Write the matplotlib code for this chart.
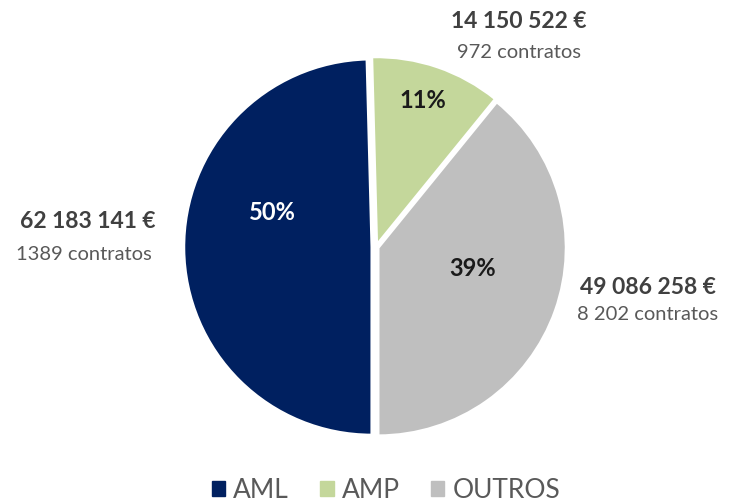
import matplotlib.pyplot as plt

# data
regions = ['AML', 'AMP', 'OUTROS']
amounts = [62183141, 14150522, 49086258]
amount_labels = ['62 183 141 €', '14 150 522 €', '49 086 258 €']
contract_labels = ['1389 contratos', '972 contratos', '8 202 contratos']
colors = ['#002060', '#C4D79B', '#BFBFBF']
pct_colors = ['white', '#1a1a1a', '#1a1a1a']

plt.rcParams['font.family'] = ['Lato', 'DejaVu Sans']

fig = plt.figure(figsize=(7.29, 5.04), dpi=100)
W, H = 729, 504
cx, cy, r = 376, 247, 188
ax = fig.add_axes([(cx - r) / W, (H - cy - r) / H, 2 * r / W, 2 * r / H])

# pie drawn clockwise from 12 o'clock: AMP, OUTROS, AML
order = [1, 2, 0]
explode = {0: 0.022, 1: 0.012, 2: 0.012}
wedges, _ = ax.pie([amounts[i] for i in order], colors=[colors[i] for i in order],
                   explode=[explode[i] for i in order],
                   startangle=91.5, counterclock=False, radius=1,
                   wedgeprops=dict(edgecolor='white', linewidth=2))
ax.set_xlim(-1, 1)
ax.set_ylim(-1, 1)
ax.set_aspect('equal')

total = sum(amounts)
# percentage labels (pixel positions)
pct_pos = [(272, 213), (423, 100), (473, 268)]
for i in range(3):
    px, py = pct_pos[i]
    fig.text(px / W, 1 - py / H, '{:.0f}%'.format(amounts[i] / total * 100),
             ha='center', va='center', fontsize=17, fontweight='bold', color=pct_colors[i])

# outer labels
amt_pos = [(88, 222), (519, 22), (648, 288)]
cnt_pos = [(84, 255), (519, 52), (648, 315)]
for i in range(3):
    fig.text(amt_pos[i][0] / W, 1 - amt_pos[i][1] / H, amount_labels[i], ha='center', va='center',
             fontsize=16.5, fontweight='bold', color='#404040')
    fig.text(cnt_pos[i][0] / W, 1 - cnt_pos[i][1] / H, contract_labels[i], ha='center', va='center',
             fontsize=14.5, color='#595959')

handles = [plt.Rectangle((0, 0), 1, 1, color=c) for c in colors]
fig.legend(handles, regions, loc='center', bbox_to_anchor=(386 / W, 1 - 490 / H), ncol=3,
           frameon=False, fontsize=19, labelcolor='#595959', handlelength=0.5, handleheight=0.5,
           handletextpad=0.3, columnspacing=1.2)

fig.savefig('out.png', dpi=100)
